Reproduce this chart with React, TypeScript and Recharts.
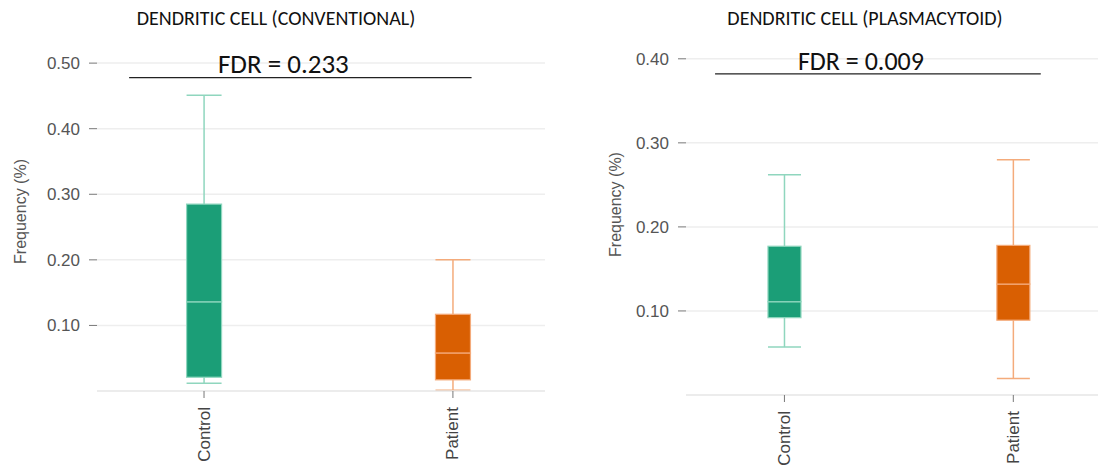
import React from 'react';
import { ComposedChart, Bar, XAxis, YAxis, CartesianGrid, ReferenceLine } from 'recharts';

// Groups and their colours (box fill, lighter whisker / outline colour)
const categories = ['Control', 'Patient'];
const groupColors = ['#1b9e77', '#d95f02'];
const lineColors = ['#8fd6be', '#f4ab7b'];

// Conventional dendritic cells: five-number summaries per group
const convMin = [0.012, 0.001];
const convQ1 = [0.021, 0.017];
const convMedian = [0.136, 0.058];
const convQ3 = [0.285, 0.117];
const convMax = [0.451, 0.2];
const convTicks = [0.1, 0.2, 0.3, 0.4, 0.5];
const convFdr = '0.233';

// Plasmacytoid dendritic cells: five-number summaries per group
const plasMin = [0.057, 0.0195];
const plasQ1 = [0.092, 0.089];
const plasMedian = [0.111, 0.132];
const plasQ3 = [0.177, 0.178];
const plasMax = [0.262, 0.28];
const plasTicks = [0.1, 0.2, 0.3, 0.4];
const plasFdr = '0.009';

const SANS = '"Liberation Sans", Arial, sans-serif';
const TITLE_FONT = 'Carlito, Lato, "Open Sans", sans-serif';

type Row = {
  pos: number;
  name: string;
  base: number;
  lowWhisker: number;
  lowBox: number;
  highBox: number;
  highWhisker: number;
};

function buildRows(mins: number[], q1s: number[], medians: number[], q3s: number[], maxs: number[]): Row[] {
  return categories.map((name, i) => ({
    pos: i,
    name,
    base: mins[i],
    lowWhisker: q1s[i] - mins[i],
    lowBox: medians[i] - q1s[i],
    highBox: q3s[i] - medians[i],
    highWhisker: maxs[i] - q3s[i],
  }));
}

const groupIndex = (p: any): number => (p.payload && typeof p.payload.pos === 'number' ? p.payload.pos : p.index || 0);

const EmptyShape = () => <g />;

const LowerWhisker = (p: any) => {
  const i = groupIndex(p);
  const cx = p.x + p.width / 2;
  const bottom = p.y + p.height;
  return (
    <g>
      <line x1={cx} x2={cx} y1={p.y} y2={bottom} stroke={lineColors[i]} strokeWidth={1.5} />
      <line x1={p.x} x2={p.x + p.width} y1={bottom} y2={bottom} stroke={lineColors[i]} strokeWidth={1.5} />
    </g>
  );
};

const UpperWhisker = (p: any) => {
  const i = groupIndex(p);
  const cx = p.x + p.width / 2;
  return (
    <g>
      <line x1={cx} x2={cx} y1={p.y} y2={p.y + p.height} stroke={lineColors[i]} strokeWidth={1.5} />
      <line x1={p.x} x2={p.x + p.width} y1={p.y} y2={p.y} stroke={lineColors[i]} strokeWidth={1.5} />
    </g>
  );
};

const BoxHalf = (p: any) => {
  const i = groupIndex(p);
  return (
    <rect
      x={p.x}
      y={p.y}
      width={p.width}
      height={Math.max(p.height, 0)}
      fill={groupColors[i]}
      stroke={lineColors[i]}
      strokeWidth={1.2}
    />
  );
};

const CategoryTick = (props: any) => {
  const { x, y, payload, fontSize } = props;
  return (
    <text
      x={x}
      y={y}
      transform={`rotate(-90 ${x} ${y})`}
      textAnchor="end"
      dominantBaseline="central"
      fill="#444"
      fontSize={fontSize}
      fontFamily={SANS}
    >
      {categories[payload.value]}
    </text>
  );
};

type PanelProps = {
  title: string;
  rows: Row[];
  ticks: number[];
  yMax: number;
  fdr: string;
  bracket: { from: number; to: number; level: number };
  width: number;
  left: number;
  top: number;
  plotBottom: number;
  yAxisWidth: number;
  rightMargin: number;
  barSize: number;
  tickFont: number;
  fdrFont: number;
  fdrGap: number;
  titleCenter: number;
  titleFont: number;
  yTitleX: number;
  yTitleShift: number;
};

function Panel(props: PanelProps) {
  const height = 466;
  const xAxisHeight = height - props.plotBottom;
  const labelContent = (lp: any) => {
    const vb = lp.viewBox || {};
    const cx = (vb.x ?? 0) + (vb.width ?? 0) / 2 - 17;
    const cy = (vb.y ?? 0) - props.fdrGap;
    return (
      <text x={cx} y={cy} textAnchor="middle" fill="#111" fontSize={props.fdrFont} fontFamily={TITLE_FONT}>
        {`FDR = ${props.fdr}`}
      </text>
    );
  };
  const yTitle = (lp: any) => {
    const vb = lp.viewBox || {};
    const cx = (vb.x ?? 0) + props.yTitleX;
    const cy = (vb.y ?? 0) + (vb.height ?? 0) / 2 + props.yTitleShift;
    return (
      <text
        x={cx}
        y={cy}
        transform={`rotate(-90 ${cx} ${cy})`}
        textAnchor="middle"
        dominantBaseline="central"
        fill="#555"
        fontSize={props.tickFont - 1}
        fontFamily={SANS}
      >
        Frequency (%)
      </text>
    );
  };
  return (
    <div style={{ position: 'absolute', left: props.left, top: 0, width: props.width, height }}>
      <div
        style={{
          position: 'absolute',
          left: props.titleCenter - 250,
          width: 500,
          top: 6,
          textAlign: 'center',
          fontFamily: TITLE_FONT,
          fontSize: props.titleFont,
          color: '#111',
          whiteSpace: 'nowrap',
        }}
      >
        {props.title}
      </div>
      <ComposedChart
        width={props.width}
        height={height}
        data={props.rows}
        margin={{ top: props.top, right: props.rightMargin, bottom: 0, left: 0 }}
        barSize={props.barSize}
      >
        <CartesianGrid
          horizontal
          vertical={false}
          horizontalValues={props.ticks}
          stroke="#eeeeee"
          strokeWidth={1.5}
        />
        <XAxis
          dataKey="pos"
          type="number"
          domain={[-0.43, 1.37]}
          ticks={[0, 1]}
          allowDataOverflow
          height={xAxisHeight}
          axisLine={{ stroke: '#e6e6e6', strokeWidth: 1.5 }}
          tickLine={{ stroke: '#777' }}
          tickSize={7}
          tickMargin={9}
          tick={<CategoryTick fontSize={props.tickFont} />}
        />
        <YAxis
          type="number"
          domain={[0, props.yMax]}
          ticks={props.ticks}
          allowDataOverflow
          width={props.yAxisWidth}
          axisLine={false}
          tickLine={{ stroke: '#777' }}
          tickSize={8}
          tickMargin={9}
          tickFormatter={(v: number) => v.toFixed(2)}
          tick={{ fill: '#555', fontSize: props.tickFont, fontFamily: SANS }}
          label={{ content: yTitle }}
        />
        <Bar dataKey="base" stackId="box" shape={<EmptyShape />} isAnimationActive={false} />
        <Bar dataKey="lowWhisker" stackId="box" shape={<LowerWhisker />} isAnimationActive={false} />
        <Bar dataKey="lowBox" stackId="box" shape={<BoxHalf />} isAnimationActive={false} />
        <Bar dataKey="highBox" stackId="box" shape={<BoxHalf />} isAnimationActive={false} />
        <Bar dataKey="highWhisker" stackId="box" shape={<UpperWhisker />} isAnimationActive={false} />
        <ReferenceLine
          segment={[
            { x: props.bracket.from, y: props.bracket.level },
            { x: props.bracket.to, y: props.bracket.level },
          ]}
          stroke="#222"
          strokeWidth={1.2}
          ifOverflow="visible"
          label={{ content: labelContent }}
        />
      </ComposedChart>
    </div>
  );
}

export default function App() {
  const convRows = buildRows(convMin, convQ1, convMedian, convQ3, convMax);
  const plasRows = buildRows(plasMin, plasQ1, plasMedian, plasQ3, plasMax);
  return (
    <div style={{ position: 'absolute', left: 0, top: 0, width: 1098, height: 466, background: '#fff', overflow: 'hidden' }}>
      <Panel
        title="DENDRITIC CELL (CONVENTIONAL)"
        rows={convRows}
        ticks={convTicks}
        yMax={0.52}
        fdr={convFdr}
        bracket={{ from: -0.301, to: 1.075, level: 0.478 }}
        width={560}
        left={0}
        top={50}
        plotBottom={391}
        yAxisWidth={97}
        rightMargin={15}
        barSize={35}
        tickFont={17}
        fdrFont={27}
        fdrGap={5}
        titleCenter={276}
        titleFont={20}
        yTitleX={20}
        yTitleShift={-9}
      />
      <Panel
        title="DENDRITIC CELL (PLASMACYTOID)"
        rows={plasRows}
        ticks={plasTicks}
        yMax={0.42}
        fdr={plasFdr}
        bracket={{ from: -0.303, to: 1.12, level: 0.382 }}
        width={538}
        left={560}
        top={42}
        plotBottom={395}
        yAxisWidth={126}
        rightMargin={0}
        barSize={33}
        tickFont={17}
        fdrFont={26}
        fdrGap={4}
        titleCenter={305}
        titleFont={20}
        yTitleX={55}
        yTitleShift={-14}
      />
    </div>
  );
}
